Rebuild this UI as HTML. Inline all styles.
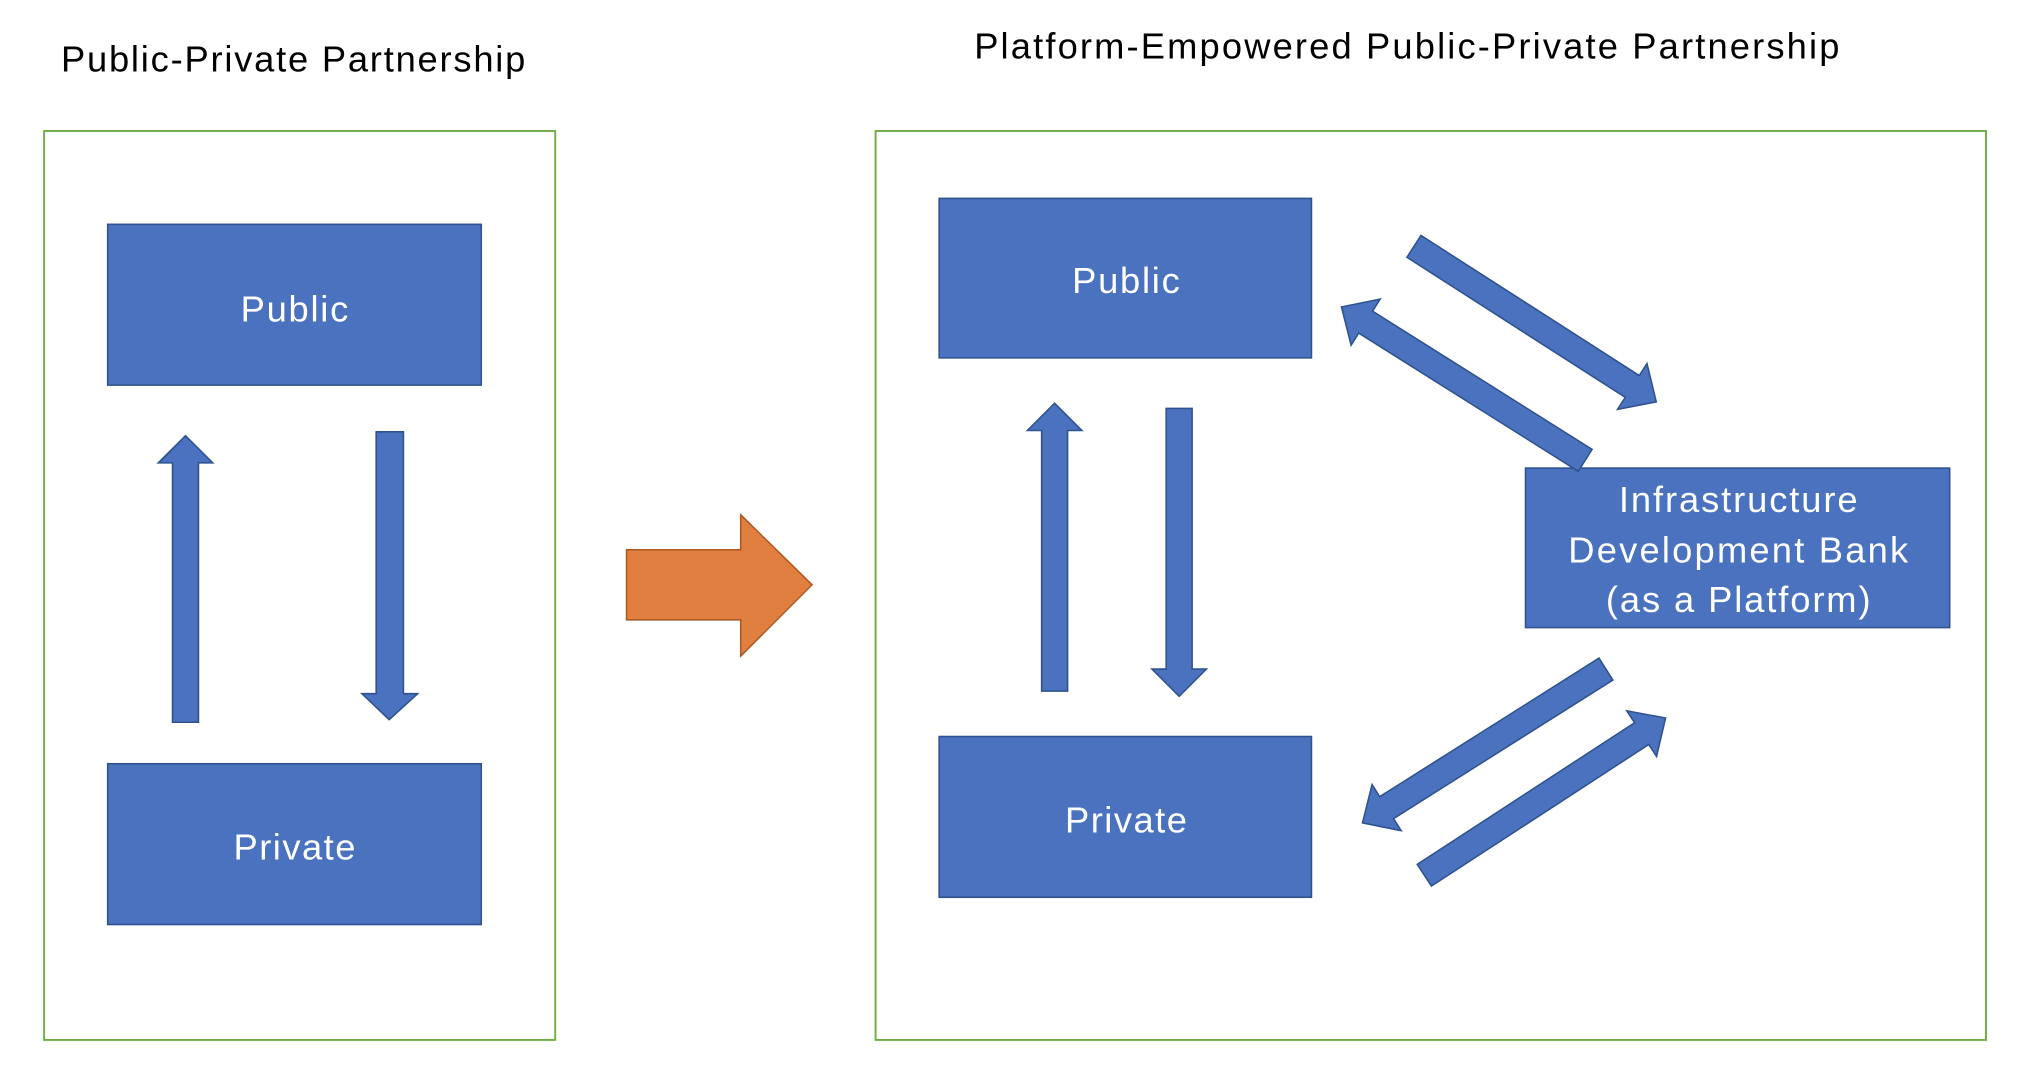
<!DOCTYPE html>
<html><head><meta charset="utf-8"><style>
html,body{margin:0;padding:0;background:#fff;}
svg{display:block;}
text{font-family:"Liberation Sans","Noto Sans CJK SC",sans-serif;}
</style></head><body>
<svg width="2034" height="1084" viewBox="0 0 1568 836" preserveAspectRatio="none" xmlns="http://www.w3.org/2000/svg">
<defs>
<g id="da">
<polygon points="0,-10 200,-10 200,-21 222,0 200,21 200,10 0,10" fill="#4A72BE" stroke="#2F528F" stroke-width="1.2"/>
</g>
</defs>
<text x="47" y="55" font-size="28" fill="#000" textLength="358" lengthAdjust="spacing">Public-Private Partnership</text>
<text x="751" y="45" font-size="28" fill="#000" textLength="667" lengthAdjust="spacing">Platform-Empowered Public-Private Partnership</text>

<rect x="34" y="101" width="394" height="701" fill="none" stroke="#70AD47" stroke-width="1.5"/>
<rect x="675" y="101" width="856" height="701" fill="none" stroke="#70AD47" stroke-width="1.5"/>

<g fill="#4A72BE" stroke="#2F528F" stroke-width="1.2">
<rect x="83" y="173" width="288" height="124"/>
<rect x="83" y="589" width="288" height="124"/>
<rect x="724" y="153" width="287" height="123"/>
<rect x="724" y="568" width="287" height="124"/>
<rect x="1176" y="361" width="327" height="123"/>
<polygon points="133,557 133,357 122,357 143,336 164,357 153,357 153,557"/>
<polygon points="290,333 311,333 311,535 322,535 300,555 279,535 290,535"/>
<polygon points="803,533 803,332 792,332 813,311 834,332 823,332 823,533"/>
<polygon points="899,315 919,315 919,516 930,516 909,537 888,516 899,516"/>
</g>
<polygon points="483,424 571,424 571,397 626,451 571,506 571,478 483,478" fill="#E07F40" stroke="#AE5A21" stroke-width="1.2"/>

<use href="#da" transform="translate(1090,190) rotate(32.7)"/>
<use href="#da" transform="translate(1222,355) rotate(212.2)"/>
<use href="#da" transform="translate(1238,516) rotate(147.7)"/>
<use href="#da" transform="translate(1098,675) rotate(-33.1)"/>

<g fill="#fff" font-size="28" text-anchor="middle">
<text x="227" y="248" textLength="83" lengthAdjust="spacing">Public</text>
<text x="227" y="663" textLength="94" lengthAdjust="spacing">Private</text>
<text x="868" y="226" textLength="83" lengthAdjust="spacing">Public</text>
<text x="868" y="642" textLength="94" lengthAdjust="spacing">Private</text>
<text x="1340" y="395" textLength="184" lengthAdjust="spacing">Infrastructure</text>
<text x="1340" y="434" textLength="262" lengthAdjust="spacing">Development Bank</text>
<text x="1340" y="472" textLength="204" lengthAdjust="spacing">(as a Platform)</text>
</g>
</svg>
</body></html>
